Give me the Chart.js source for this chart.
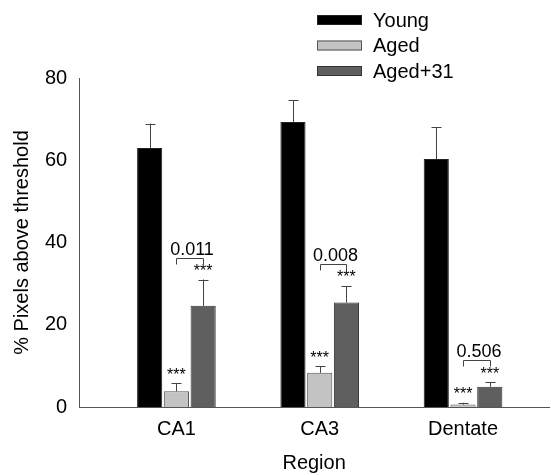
<!DOCTYPE html>
<html>
<head>
<meta charset="utf-8">
<script src="https://cdn.jsdelivr.net/npm/chart.js@4.4.0/dist/chart.umd.min.js"></script>
<style>
  html, body { margin: 0; padding: 0; background: #fff; }
  #wrap { width: 551px; height: 475px; }
</style>
</head>
<body>
<div id="wrap"><canvas id="c"></canvas></div>
<script>
const regions = ['CA1', 'CA3', 'Dentate'];
const groups = ['Young', 'Aged', 'Aged+31'];
const young = [63.0, 69.3, 60.3];
const aged = [3.8, 8.3, 0.6];
const aged31 = [24.6, 25.4, 4.9];
const youngErr = [5.9, 5.3, 7.7];
const agedErr = [2.0, 1.6, 0.45];
const aged31Err = [6.4, 4.0, 1.1];
const pValues = ['0.011', '0.008', '0.506'];
const yTicks = [0, 20, 40, 60, 80];

const FONT = '"Liberation Sans", Arial, sans-serif';
const errs = [youngErr, agedErr, aged31Err];

const toPoints = arr => arr.map((v, i) => ({ x: i + 1, y: v }));

// error bars, significance stars, brackets and the legend
const extras = {
  id: 'extras',
  afterDatasetsDraw(chart) {
    const ctx = chart.ctx, y = chart.scales.y;
    ctx.save();
    ctx.strokeStyle = '#444';
    ctx.lineWidth = 1;
    chart.data.datasets.forEach((ds, d) => {
      const meta = chart.getDatasetMeta(d);
      meta.data.forEach((bar, i) => {
        const top = y.getPixelForValue(ds.data[i].y + errs[d][i]);
        const x = Math.round(bar.x) + 0.5;
        ctx.beginPath();
        ctx.moveTo(x, bar.y);
        ctx.lineTo(x, top);
        ctx.moveTo(x - 5, Math.round(top) + 0.5);
        ctx.lineTo(x + 5, Math.round(top) + 0.5);
        ctx.stroke();
      });
    });

    ctx.fillStyle = '#000';
    ctx.textAlign = 'center';
    ctx.textBaseline = 'middle';
    const starY = [];
    [1, 2].forEach(d => {
      const meta = chart.getDatasetMeta(d);
      meta.data.forEach((bar, i) => {
        const top = y.getPixelForValue(chart.data.datasets[d].data[i].y + errs[d][i]);
        ctx.font = '16px ' + FONT;
        ctx.fillText('***', bar.x, top - 8);
        starY[i] = Math.min(starY[i] ?? 1e9, top - 8);
      });
    });

    const m1 = chart.getDatasetMeta(1), m2 = chart.getDatasetMeta(2);
    pValues.forEach((p, i) => {
      const x1 = Math.round(m1.data[i].x) + 0.5, x2 = Math.round(m2.data[i].x) + 0.5;
      const by = Math.round(starY[i] - 14) + 0.5;
      ctx.beginPath();
      ctx.moveTo(x1, by + 6);
      ctx.lineTo(x1, by);
      ctx.lineTo(x2, by);
      ctx.lineTo(x2, by + 6);
      ctx.stroke();
      ctx.font = '18px ' + FONT;
      ctx.textBaseline = 'alphabetic';
      ctx.fillText(p, (x1 + x2) / 2 + 2, by - 4);
      ctx.textBaseline = 'middle';
    });

    // legend
    ctx.textAlign = 'left';
    ctx.font = '20px ' + FONT;
    chart.data.datasets.forEach((ds, d) => {
      const cy = 20 + d * 25.5;
      ctx.fillStyle = ds.backgroundColor;
      ctx.fillRect(317, cy - 5, 45, 10);
      ctx.strokeStyle = ds.borderColor;
      ctx.strokeRect(317.5, cy - 4.5, 44, 9);
      ctx.fillStyle = '#000';
      ctx.fillText(ds.label, 373, cy + 1);
    });
    ctx.restore();
  }
};

new Chart(document.getElementById('c'), {
  type: 'bar',
  data: {
    datasets: [
      { label: groups[0], data: toPoints(young), backgroundColor: '#000000', borderColor: '#222222', borderWidth: 1 },
      { label: groups[1], data: toPoints(aged), backgroundColor: '#c3c3c3', borderColor: '#555555', borderWidth: 1 },
      { label: groups[2], data: toPoints(aged31), backgroundColor: '#5f5f5f', borderColor: '#333333', borderWidth: 1 }
    ]
  },
  options: {
    responsive: true,
    maintainAspectRatio: false,
    animation: false,
    categoryPercentage: 0.56,
    barPercentage: 0.94,
    layout: { padding: { top: 78, right: 2, left: 10, bottom: 0 } },
    plugins: { legend: { display: false }, tooltip: { enabled: false } },
    scales: {
      x: {
        type: 'linear',
        offset: false,
        min: 0.322,
        max: 3.6,
        afterBuildTicks: axis => { axis.ticks = regions.map((r, i) => ({ value: i + 1 })); },
        ticks: { callback: v => regions[v - 1], color: '#000', font: { family: FONT, size: 20 }, padding: 10 },
        grid: { display: false, drawTicks: false },
        border: { color: '#555', width: 1 },
        title: { display: true, text: 'Region', color: '#000', font: { family: FONT, size: 20 }, padding: { top: 0, bottom: 0 } }
      },
      y: {
        min: 0,
        max: 80,
        afterBuildTicks: axis => { axis.ticks = yTicks.map(v => ({ value: v })); },
        ticks: { color: '#000', font: { family: FONT, size: 20 }, padding: 7 },
        grid: { display: false, drawOnChartArea: false, drawTicks: true, tickLength: 5, tickColor: '#555' },
        border: { color: '#555', width: 1 },
        title: { display: true, text: '% Pixels above threshold', color: '#000', font: { family: FONT, size: 20 }, padding: { top: 0, bottom: 4 } }
      }
    }
  },
  plugins: [extras]
});
</script>
</body>
</html>
